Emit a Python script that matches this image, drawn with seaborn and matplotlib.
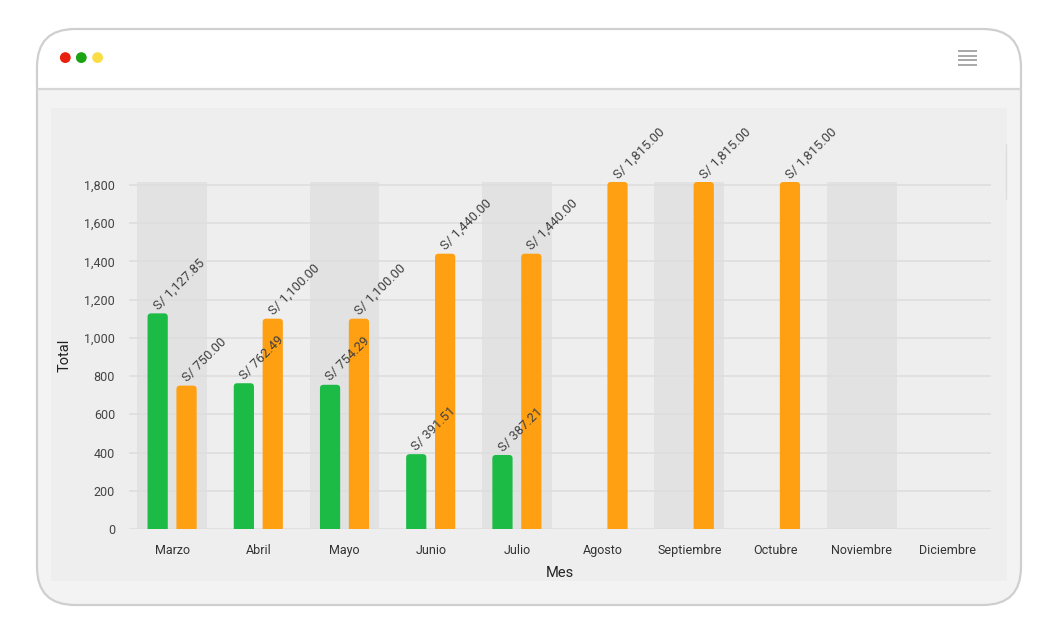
import numpy as np
import pandas as pd
import matplotlib
matplotlib.use("Agg")
import matplotlib.pyplot as plt
from matplotlib.patches import FancyBboxPatch, Rectangle, Circle
import seaborn as sns

# ---------------- data ----------------
months = ["Marzo", "Abril", "Mayo", "Junio", "Julio", "Agosto",
          "Septiembre", "Octubre", "Noviembre", "Diciembre"]
serie_verde = [1127.85, 762.49, 754.29, 391.51, 387.21, np.nan, np.nan, np.nan, np.nan, np.nan]
serie_naranja = [750.00, 1100.00, 1100.00, 1440.00, 1440.00, 1815.00, 1815.00, 1815.00, np.nan, np.nan]
series_names = ["Pagado", "Total"]
y_ticks = [0, 200, 400, 600, 800, 1000, 1200, 1400, 1600, 1800]

df = pd.DataFrame({
    "Mes": months * 2,
    "Total": serie_verde + serie_naranja,
    "Serie": [series_names[0]] * len(months) + [series_names[1]] * len(months),
})

GREEN = "#1bbb45"
ORANGE = "#ff9f12"

sns.set_style("white")
plt.rcParams["font.family"] = ["Roboto", "DejaVu Sans"]

W, H = 1058, 638
fig = plt.figure(figsize=(W / 100, H / 100), dpi=100)
fig.patch.set_facecolor("white")

# ---------------- browser-like frame ----------------
bg = fig.add_axes([0, 0, 1, 1], zorder=-10)
bg.set_xlim(0, W)
bg.set_ylim(H, 0)
bg.axis("off")

frame = FancyBboxPatch((37, 29), 984, 576, boxstyle="round,pad=0,rounding_size=38",
                       facecolor="#f3f3f3", edgecolor="none", lw=0)
bg.add_patch(frame)
header = Rectangle((30, 20), 1000, 69, facecolor="white", edgecolor="none")
bg.add_patch(header)
header.set_clip_path(frame)
bg.plot([37, 1021], [89, 89], color="#d6d6d6", lw=1.6, solid_capstyle="butt")
frame_edge = FancyBboxPatch((37, 29), 984, 576, boxstyle="round,pad=0,rounding_size=38",
                            facecolor="none", edgecolor="#cfcfcf", lw=1.6)
bg.add_patch(frame_edge)

for cx, col in [(65.3, "#e8210f"), (81.3, "#1aa313"), (97.6, "#fbdd45")]:
    bg.add_patch(Circle((cx, 57.6), 5.4, facecolor=col, edgecolor="none"))
for yy in [50.7, 55.5, 60.3, 65.2]:
    bg.plot([958, 977], [yy, yy], color="#9a9a9a", lw=1.2, solid_capstyle="butt")

bg.add_patch(Rectangle((51, 108), 956, 473, facecolor="#eeeeee", edgecolor="none"))
bg.plot([1006, 1006], [144, 199], color="#dedede", lw=1.0)

# ---------------- chart ----------------
ax_left, ax_right = 129 / W, 991 / W
ax_bottom, ax_top = (H - 529) / H, (H - 182) / H
ax = fig.add_axes([ax_left, ax_bottom, ax_right - ax_left, ax_top - ax_bottom], zorder=1)
ax.set_facecolor("none")

sns.barplot(data=df, x="Mes", y="Total", hue="Serie", order=months,
            hue_order=series_names, palette=[GREEN, ORANGE],
            width=0.67, gap=0.3, legend=False, ax=ax, errorbar=None,
            saturation=1, zorder=3)
bars = [p for p in ax.patches if np.isfinite(p.get_height()) and p.get_height() > 0]

ax.set_xlim(-0.5, len(months) - 0.5)
ax.set_ylim(0, 1815)
ax.set_yticks(y_ticks)
ax.set_yticklabels([f"{v:,}" for v in y_ticks])

# alternating bands
for i in range(0, len(months), 2):
    ax.axvspan(i - 0.405, i + 0.405, color="#e2e2e2", zorder=0, lw=0)

ax.set_axisbelow(True)
ax.grid(axis="y", color="#dedede", lw=1.2, zorder=1)
ax.grid(axis="x", visible=False)
for s in ax.spines.values():
    s.set_visible(False)
ax.tick_params(axis="both", length=0, colors="#444444")
ax.tick_params(axis="y", pad=10, labelsize=9)
ax.tick_params(axis="x", pad=11, labelsize=9)
for lbl in ax.get_xticklabels():
    lbl.set_color("#333333")

ax.set_ylabel("Total", fontsize=10.5, color="#222222")
ax.set_xlabel("Mes", fontsize=10.5, color="#222222")
ax.yaxis.set_label_coords(-0.067, 0.5)
ax.xaxis.set_label_coords(0.5, -0.108)

# rounded bars + value labels
fig.canvas.draw()
px_per_x = abs(ax.transData.transform((1, 0))[0] - ax.transData.transform((0, 0))[0])
px_per_y = abs(ax.transData.transform((0, 0))[1] - ax.transData.transform((0, 1))[1])
r_px = 3.5
rx = r_px / px_per_x
ry = r_px / px_per_y
for p in bars:
    x, w, h = p.get_x(), p.get_width(), p.get_height()
    col = p.get_facecolor()
    rb = FancyBboxPatch((x, -ry * 1.5), w, h + ry * 1.5,
                        boxstyle=f"round,pad=0,rounding_size={rx}",
                        mutation_aspect=ry / rx, facecolor=col, edgecolor="none",
                        zorder=3)
    ax.add_patch(rb)
    ax.annotate(f"S/ {h:,.2f}", xy=(x + w / 2, h), xytext=(0.3, 2.2),
                textcoords="offset points", rotation=45, rotation_mode="anchor",
                ha="left", va="baseline", fontsize=9.4, color="#404040",
                annotation_clip=False, zorder=5)
    p.remove()

fig.savefig("out.png", dpi=100, facecolor=fig.get_facecolor())
